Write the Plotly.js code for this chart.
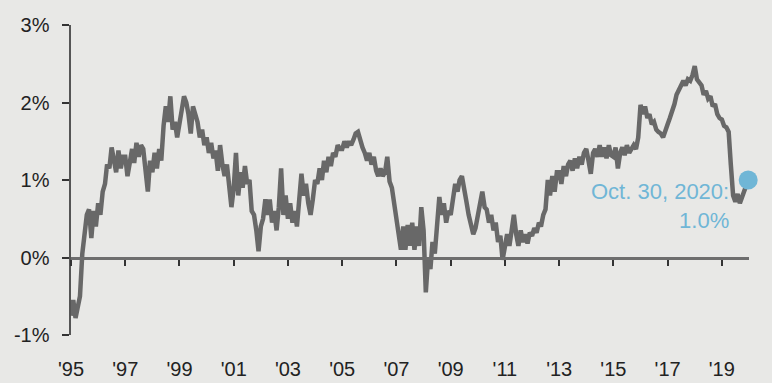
<!DOCTYPE html>
<html>
<head>
<meta charset="utf-8">
<script src="https://cdn.plot.ly/plotly-3.0.1.min.js"></script>
<style>
  html, body { margin: 0; padding: 0; background: #e8e8e6; }
  #chart { width: 772px; height: 383px; }
</style>
</head>
<body>
<div id="chart"></div>
<script>
// Monthly readings, one row per year running November to October (1995-96 ... 2019-20), in percent
const firstMonth = { year: 1995, month: 11, day: 10 };
const monthlyValues = [
  -0.75, -0.55, -0.78, -0.6, -0.5, 0.05, 0.25, 0.55, 0.62, 0.25, 0.6, 0.4,
  0.7, 0.55, 0.85, 0.95, 1.2, 1.15, 1.42, 1.25, 1.1, 1.38, 1.15, 1.3,
  1.3, 1.05, 1.28, 1.4, 1.22, 1.48, 1.3, 1.45, 1.4, 1.15, 0.85, 1.25,
  1.1, 1.35, 1.15, 1.4, 1.25, 1.7, 1.95, 1.75, 2.08, 1.65, 1.75, 1.55,
  1.7, 1.9, 2.08, 2.0, 1.85, 1.6, 1.95, 1.85, 1.75, 1.55, 1.65, 1.45,
  1.55, 1.35, 1.48, 1.28, 1.38, 1.12, 1.45, 1.2, 1.05, 1.2, 0.95, 0.65,
  0.9, 1.35, 0.8, 1.1, 0.9, 1.18, 0.95, 1.0, 0.6, 0.55, 0.35, 0.08,
  0.4, 0.5, 0.75, 0.55, 0.75, 0.45, 0.6, 0.35, 0.65, 1.15, 0.55, 0.8,
  0.5, 0.7, 0.45, 0.6, 0.4, 0.8, 1.08, 0.8, 0.95, 0.7, 0.55, 0.75,
  1.0, 0.95, 1.15, 1.0, 1.25, 1.1, 1.3, 1.18, 1.35, 1.3, 1.45, 1.4,
  1.4, 1.5, 1.42, 1.5, 1.45, 1.52, 1.6, 1.62, 1.5, 1.42, 1.35, 1.25,
  1.35, 1.2, 1.3, 1.12, 1.05, 1.15, 1.05, 1.1, 1.3, 0.98, 0.9, 0.72,
  0.55, 0.3, 0.1, 0.4, 0.1, 0.42, 0.15, 0.45, 0.1, 0.4, 0.15, 0.65,
  0.35, -0.45, 0.0, -0.15, 0.2, 0.05, 0.45, 0.78, 0.55, 0.7, 0.45, 0.6,
  0.55, 0.8, 0.95, 0.85, 1.0, 1.05, 0.85, 0.72, 0.55, 0.45, 0.3, 0.38,
  0.55, 0.75, 0.85, 0.65, 0.62, 0.45, 0.55, 0.35, 0.45, 0.2, 0.28, -0.03,
  0.15, 0.3, 0.15, 0.35, 0.55, 0.3, 0.15, 0.35, 0.2, 0.3, 0.18, 0.32,
  0.28, 0.38, 0.32, 0.45, 0.4, 0.55, 0.62, 1.0, 0.8, 1.05, 0.85, 1.1,
  1.1, 0.95, 1.18, 1.05, 1.2, 1.25, 1.12, 1.28, 1.15, 1.3, 1.2, 1.35,
  1.4, 1.25, 1.08, 1.35, 1.4, 1.3, 1.45, 1.3, 1.42, 1.28, 1.45, 1.32,
  1.3, 1.42, 1.15, 1.35, 1.42, 1.32, 1.45, 1.35, 1.4, 1.45, 1.4, 1.55,
  1.97, 1.85, 1.95, 1.8, 1.85, 1.72, 1.75, 1.65, 1.62, 1.6, 1.55, 1.65,
  1.72, 1.8, 1.88, 1.98, 2.1, 2.18, 2.22, 2.28, 2.22, 2.3, 2.28, 2.35,
  2.47, 2.3, 2.25, 2.22, 2.1, 2.15, 2.05, 2.08, 1.95, 1.98, 1.85, 1.8,
  1.78, 1.7, 1.68, 1.62, 1.2, 0.8, 0.72, 0.82, 0.7, 0.78, 0.85, 0.92
];

// Latest observation, highlighted with a dot
const latestDate = '2020-10-30';
const latestValue = 1.0;
const latestLabel = 'Oct. 30, 2020:';

// Axis ticks
const xTickDates = ['1995-11-10', '1997-11-10', '1999-11-10', '2001-11-10', '2003-11-10', '2005-11-10',
                    '2007-11-10', '2009-11-10', '2011-11-10', '2013-11-10', '2015-11-10', '2017-11-10', '2019-11-10'];
const xTickLabels = ["'95", "'97", "'99", "'01", "'03", "'05", "'07", "'09", "'11", "'13", "'15", "'17", "'19"];
const xRange = ['1995-11-10', '2020-11-10'];
const yTickValues = [-1, 0, 1, 2, 3];
const yTickLabels = ['-1%', '0%', '1%', '2%', '3%'];

function pad(n) { return (n < 10 ? '0' : '') + n; }
const monthlyDates = monthlyValues.map(function (_, i) {
  const m0 = firstMonth.month - 1 + i;
  const y = firstMonth.year + Math.floor(m0 / 12);
  const m = (m0 % 12) + 1;
  return y + '-' + pad(m) + '-' + pad(firstMonth.day);
});

const lineX = monthlyDates.concat([latestDate]);
const lineY = monthlyValues.concat([latestValue]);

const font = 'Liberation Sans, Arial, sans-serif';
const blue = '#70b6d6';

const traces = [
  {
    // series line on the bottom (labelled) axis
    type: 'scatter', mode: 'lines',
    x: lineX, y: lineY,
    xaxis: 'x', yaxis: 'y',
    line: { color: '#686868', width: 4.5, shape: 'linear' },
    cliponaxis: false,
    hoverinfo: 'skip', showlegend: false
  },
  {
    // latest-value dot, drawn in the overlay so it sits above the line
    type: 'scatter', mode: 'markers',
    x: [latestDate], y: [latestValue],
    xaxis: 'x2', yaxis: 'y',
    marker: { color: blue, size: 19 },
    cliponaxis: false,
    hoverinfo: 'skip', showlegend: false
  }
];

const layout = {
  width: 772, height: 383,
  margin: { l: 71, r: 23, t: 25, b: 48 },
  paper_bgcolor: '#e8e8e6',
  plot_bgcolor: '#e8e8e6',
  showlegend: false,
  xaxis: {
    // labels only along the bottom
    type: 'date', range: xRange,
    tickmode: 'array', tickvals: xTickDates, ticktext: xTickLabels,
    ticks: '', showline: false, showgrid: false, zeroline: false,
    tickfont: { family: font, size: 20, color: '#222' },
    ticklabelstandoff: 20
  },
  xaxis2: {
    // axis through zero with the tick marks
    type: 'date', range: xRange, overlaying: 'x',
    anchor: 'free', position: 0.25, side: 'bottom',
    tickmode: 'array', tickvals: xTickDates, showticklabels: false,
    ticks: 'outside', ticklen: 6, tickwidth: 2, tickcolor: '#333',
    showline: true, linecolor: '#6e6e6e', linewidth: 3.5,
    showgrid: false, zeroline: false
  },
  yaxis: {
    range: [-1, 3],
    tickmode: 'array', tickvals: yTickValues, ticktext: yTickLabels,
    ticks: 'outside', ticklen: 7, tickwidth: 2, tickcolor: '#333',
    showline: true, linecolor: '#555', linewidth: 2.5,
    showgrid: false, zeroline: false,
    tickfont: { family: font, size: 20, color: '#222' },
    ticklabelstandoff: 8
  },
  annotations: [
    {
      x: latestDate, y: latestValue, xref: 'x', yref: 'y',
      text: latestLabel + '<br>' + latestValue.toFixed(1) + '%',
      showarrow: false, xanchor: 'right', yanchor: 'top', align: 'right',
      xshift: -17, yshift: 3,
      font: { family: font, size: 22, color: blue }
    }
  ]
};

Plotly.newPlot('chart', traces, layout, { staticPlot: true, displayModeBar: false });
</script>
</body>
</html>
